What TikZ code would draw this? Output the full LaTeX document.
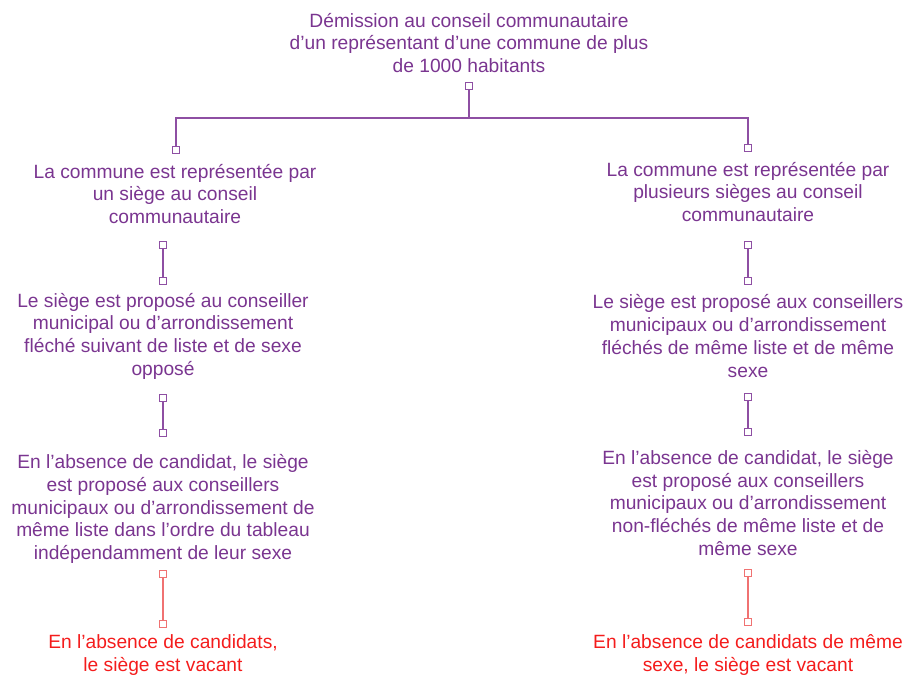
\documentclass[tikz,border=0pt]{standalone}
\usepackage{fontspec}
\setmainfont{Liberation Sans}
\definecolor{txtpurple}{HTML}{7A3590}
\definecolor{linepurple}{HTML}{8E4FA3}
\definecolor{txtred}{HTML}{F41C1C}
\definecolor{linered}{HTML}{F07272}
\begin{document}
\begin{tikzpicture}[x=1pt,y=-1pt,
  lbl/.style={align=center,inner sep=0pt,font=\fontsize{19.2}{22.7}\selectfont,text=txtpurple},
  redlbl/.style={lbl,text=txtred},
  sq/.style={draw=linepurple,fill=white,line width=1.4pt,minimum size=7.5pt,inner sep=0pt,rectangle},
  rsq/.style={sq,draw=linered},
  link/.style={draw=linepurple,line width=1.6pt},
  rlink/.style={draw=linered,line width=1.6pt}]
\useasboundingbox (0,0) rectangle (907,675);
% texts
\node[lbl] (top) at (469,43) {Démission au conseil communautaire\\d’un représentant d’une commune de plus\\de 1000 habitants};
\node[lbl] (l1) at (175,194) {La commune est représentée par\\un siège au conseil\\communautaire};
\node[lbl] (r1) at (748,192) {La commune est représentée par\\plusieurs sièges au conseil\\communautaire};
\node[lbl] (l2) at (163,336) {Le siège est proposé au conseiller\\municipal ou d’arrondissement\\fléché suivant de liste et de sexe\\opposé};
\node[lbl] (r2) at (748,336) {Le siège est proposé aux conseillers\\municipaux ou d’arrondissement\\fléchés de même liste et de même\\sexe};
\node[lbl] (l3) at (163,509) {En l’absence de candidat, le siège\\est proposé aux conseillers\\municipaux ou d’arrondissement de\\même liste dans l’ordre du tableau\\indépendamment de leur sexe};
\node[lbl] (r3) at (748,503) {En l’absence de candidat, le siège\\est proposé aux conseillers\\municipaux ou d’arrondissement\\non-fléchés de même liste et de\\même sexe};
\node[redlbl] (l4) at (163,655) {En l’absence de candidats,\\le siège est vacant};
\node[redlbl] (r4) at (748,655) {En l’absence de candidats de même\\sexe, le siège est vacant};
% connector squares
\node[sq] (t0) at (469,86) {};
\node[sq] (l1a) at (176,150) {};
\node[sq] (r1a) at (748,148) {};
\node[sq] (l2a) at (163,245) {};
\node[sq] (l2b) at (163,281) {};
\node[sq] (r2a) at (748,245) {};
\node[sq] (r2b) at (748,281) {};
\node[sq] (l3a) at (163,398) {};
\node[sq] (l3b) at (163,433) {};
\node[sq] (r3a) at (748,397) {};
\node[sq] (r3b) at (748,432) {};
\node[rsq] (l4a) at (163,574) {};
\node[rsq] (l4b) at (163,624) {};
\node[rsq] (r4a) at (748,573) {};
\node[rsq] (r4b) at (748,622) {};
\coordinate (hub) at (469,118);
% connectors
\draw[link] (t0) -- (hub);
\draw[link] (hub) -| (l1a);
\draw[link] (hub) -| (r1a);
\draw[link] (l2a) -- (l2b);
\draw[link] (r2a) -- (r2b);
\draw[link] (l3a) -- (l3b);
\draw[link] (r3a) -- (r3b);
\draw[rlink] (l4a) -- (l4b);
\draw[rlink] (r4a) -- (r4b);
\end{tikzpicture}
\end{document}
